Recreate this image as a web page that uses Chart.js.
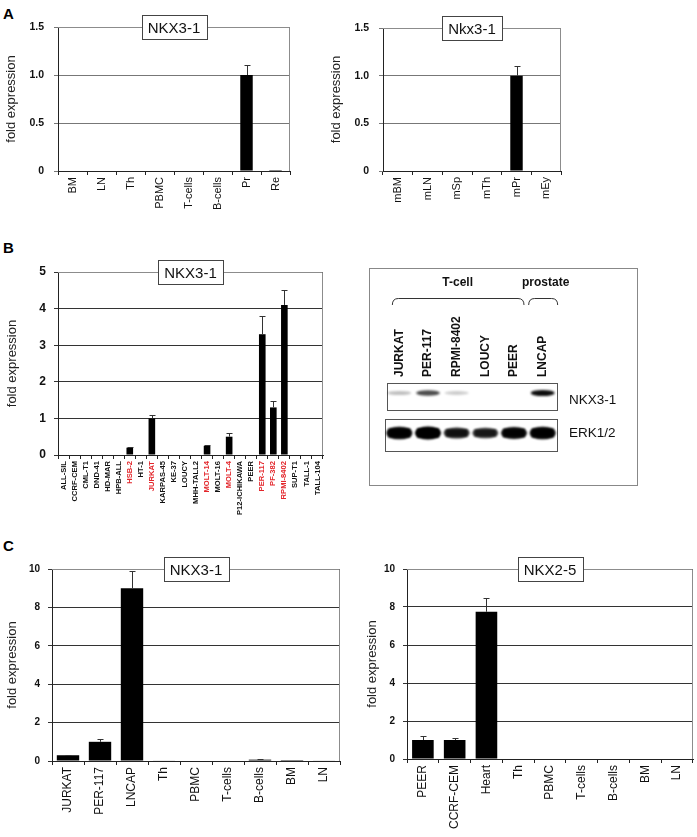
<!DOCTYPE html>
<html>
<head>
<meta charset="utf-8">
<script src="https://cdn.jsdelivr.net/npm/chart.js@4.4.1/dist/chart.umd.min.js"></script>
<style>
  body { margin: 0; background: #fff; font-family: "Liberation Sans", Arial, sans-serif; }
  #page { position: relative; width: 697px; height: 837px; overflow: hidden; background: #fff; }
  canvas, .blot, .panel { position: absolute; }
  .panel { font-weight: bold; font-size: 15px; line-height: 15px; color: #000; }
  .blot { border: 1px solid #888; left: 369px; top: 268px; width: 267px; height: 216px; }
  .blot canvas { left: 0; top: 0; }
</style>
</head>
<body>
<div id="page">
  <div class="panel" style="left:3px; top:6px;">A</div>
  <div class="panel" style="left:3px; top:240px;">B</div>
  <div class="panel" style="left:3px; top:538px;">C</div>

  <canvas id="chartA1" width="300" height="215" style="left:0; top:0;"></canvas>
  <canvas id="chartA2" width="372" height="215" style="left:325px; top:0;"></canvas>
  <canvas id="chartB" width="340" height="300" style="left:0; top:228px;"></canvas>
  <div class="blot"><canvas id="blot" width="267" height="216"></canvas></div>
  <canvas id="chartC1" width="350" height="292" style="left:0; top:545px;"></canvas>
  <canvas id="chartC2" width="347" height="292" style="left:350px; top:545px;"></canvas>
</div>
<script>
// --- données ---
const tissuesA = ['BM', 'LN', 'Th', 'PBMC', 'T-cells', 'B-cells', 'Pr', 'Re'];
const nkxA = [0, 0, 0, 0, 0, 0, 1.0, 0.01];
const nkxAErr = [0, 0, 0, 0, 0, 0, 0.1, 0];

const mouseA = ['mBM', 'mLN', 'mSp', 'mTh', 'mPr', 'mEy'];
const nkxMouse = [0, 0, 0, 0, 1.0, 0];
const nkxMouseErr = [0, 0, 0, 0, 0.1, 0];

const cellLinesB = ['ALL-SIL', 'CCRF-CEM', 'CML-T1', 'DND-41', 'HD-MAR', 'HPB-ALL', 'HSB-2', 'HT-1',
  'JURKAT', 'KARPAS-45', 'KE-37', 'LOUCY', 'MHH-TALL2', 'MOLT-14', 'MOLT-16', 'MOLT-4',
  'P12-ICHIKAWA', 'PEER', 'PER-117', 'PF-382', 'RPMI-8402', 'SUP-T1', 'TALL-1', 'TALL-104'];
const redLinesB = ['HSB-2', 'JURKAT', 'MOLT-14', 'MOLT-4', 'PER-117', 'PF-382', 'RPMI-8402'];
const nkxB = [0, 0, 0, 0, 0, 0, 0.2, 0, 1.0, 0, 0, 0, 0, 0.25, 0, 0.5, 0, 0, 3.3, 1.3, 4.1, 0, 0, 0];
const nkxBErr = [0, 0, 0, 0, 0, 0, 0.02, 0, 0.1, 0, 0, 0, 0, 0.02, 0, 0.1, 0, 0, 0.5, 0.18, 0.42, 0, 0, 0];

const blotLanes = ['JURKAT', 'PER-117', 'RPMI-8402', 'LOUCY', 'PEER', 'LNCAP'];
const nkxBand = [0.25, 0.7, 0.2, 0, 0, 0.95];
const erkBand = [0.95, 1.0, 0.75, 0.7, 0.9, 0.95];

const samplesC1 = ['JURKAT', 'PER-117', 'LNCAP', 'Th', 'PBMC', 'T-cells', 'B-cells', 'BM', 'LN'];
const nkxC = [0.3, 1.0, 9.0, 0.03, 0, 0, 0.07, 0.05, 0.03];
const nkxCErr = [0.03, 0.12, 0.9, 0, 0, 0, 0.02, 0, 0];

const samplesC2 = ['PEER', 'CCRF-CEM', 'Heart', 'Th', 'PBMC', 'T-cells', 'B-cells', 'BM', 'LN'];
const nkx25 = [1.0, 1.0, 7.75, 0, 0, 0, 0, 0, 0];
const nkx25Err = [0.2, 0.08, 0.75, 0, 0, 0, 0, 0, 0];

const FONT = '"Liberation Sans", Arial, sans-serif';
Chart.defaults.font.family = FONT;

// cadre gris en haut et à droite de la zone de tracé
const plotFrame = {
  id: 'plotFrame',
  beforeDatasetsDraw(chart) {
    const { ctx, chartArea: a } = chart;
    ctx.save();
    ctx.strokeStyle = '#8c8c8c';
    ctx.lineWidth = 1;
    ctx.beginPath();
    ctx.moveTo(a.left, Math.round(a.top) + 0.5);
    ctx.lineTo(Math.round(a.right) - 0.5, Math.round(a.top) + 0.5);
    ctx.lineTo(Math.round(a.right) - 0.5, a.bottom);
    ctx.stroke();
    ctx.restore();
  }
};

// barres d'erreur (vers le haut seulement)
const errorBars = {
  id: 'errorBars',
  afterDatasetsDraw(chart) {
    const ds = chart.data.datasets[0];
    const meta = chart.getDatasetMeta(0);
    const y = chart.scales.y;
    const ctx = chart.ctx;
    ctx.save();
    ctx.strokeStyle = '#333';
    ctx.lineWidth = 1;
    ds.errors.forEach((e, i) => {
      if (!e) return;
      const x = Math.round(meta.data[i].x) + 0.5;
      const y0 = y.getPixelForValue(ds.data[i]);
      const y1 = Math.round(y.getPixelForValue(ds.data[i] + e)) + 0.5;
      ctx.beginPath();
      ctx.moveTo(x, y0);
      ctx.lineTo(x, y1);
      ctx.moveTo(x - 3, y1);
      ctx.lineTo(x + 3, y1);
      ctx.stroke();
    });
    ctx.restore();
  }
};

// titre encadré posé sur le bord supérieur
const titleBox = {
  id: 'titleBox',
  afterDraw(chart, args, opts) {
    const { ctx, chartArea: a } = chart;
    ctx.save();
    ctx.font = '15px ' + FONT;
    const w = Math.round(ctx.measureText(opts.text).width + 12);
    const h = 24;
    const cx = (a.left + a.right) / 2;
    const x = Math.round(cx - w / 2) + 0.5;
    const y = Math.round(a.top - h / 2) + 0.5;
    ctx.fillStyle = '#fff';
    ctx.fillRect(x, y, w, h);
    ctx.strokeStyle = '#444';
    ctx.lineWidth = 1;
    ctx.strokeRect(x, y, w, h);
    ctx.fillStyle = '#111';
    ctx.textAlign = 'center';
    ctx.textBaseline = 'middle';
    ctx.fillText(opts.text, cx, y + h / 2 + 1);
    ctx.restore();
  }
};

function makeBar(id, labels, values, errors, o) {
  return new Chart(document.getElementById(id), {
    type: 'bar',
    data: {
      labels: labels,
      datasets: [{
        data: values,
        errors: errors,
        backgroundColor: '#000',
        borderWidth: 0,
        barPercentage: o.barPct,
        categoryPercentage: 1
      }]
    },
    options: {
      responsive: false,
      animation: false,
      layout: { padding: { top: o.top, right: o.right, left: 0, bottom: 0 } },
      plugins: {
        legend: { display: false },
        tooltip: { enabled: false },
        titleBox: { text: o.title }
      },
      scales: {
        x: {
          grid: { offset: true, drawOnChartArea: false, tickLength: 4, color: '#222' },
          border: { color: '#222' },
          ticks: {
            autoSkip: false, minRotation: 90, maxRotation: 90, padding: 2,
            font: o.labelFont, color: o.labelColor || '#111'
          },
          afterFit: s => { s.height = o.xHeight; }
        },
        y: {
          min: 0,
          max: o.yMax,
          ticks: {
            stepSize: o.step, font: o.tickFont, color: '#111', padding: o.tickPad,
            callback: o.fmt || (v => v)
          },
          grid: { color: o.grid, tickLength: 4 },
          border: { color: '#222' },
          title: {
            display: true, text: 'fold expression', font: { size: 13 }, color: '#222',
            padding: { top: o.titlePad, bottom: 0 }
          },
          afterFit: s => { s.width = o.yWidth; }
        }
      }
    },
    plugins: [plotFrame, errorBars, titleBox]
  });
}

const fmtA = v => (v === 0 ? '0' : v.toFixed(1));

makeBar('chartA1', tissuesA, nkxA, nkxAErr, {
  title: 'NKX3-1', yMax: 1.5, step: 0.5, fmt: fmtA, barPct: 0.43,
  top: 27, right: 10, yWidth: 58, xHeight: 44, titlePad: 4, tickPad: 10,
  tickFont: { size: 10.5, weight: 'bold' }, labelFont: { size: 11 }, grid: '#777'
});

makeBar('chartA2', mouseA, nkxMouse, nkxMouseErr, {
  title: 'Nkx3-1', yMax: 1.5, step: 0.5, fmt: fmtA, barPct: 0.42,
  top: 28, right: 136, yWidth: 58, xHeight: 44, titlePad: 4, tickPad: 10,
  tickFont: { size: 10.5, weight: 'bold' }, labelFont: { size: 11 }, grid: '#777'
});

makeBar('chartB', cellLinesB, nkxB, nkxBErr, {
  title: 'NKX3-1', yMax: 5, step: 1, barPct: 0.6,
  top: 44, right: 17, yWidth: 58, xHeight: 73, titlePad: 5, tickPad: 8,
  tickFont: { size: 12, weight: 'bold' }, labelFont: { size: 7.6, weight: 'bold' },
  labelColor: c => (redLinesB.includes(cellLinesB[c.index]) ? '#e3262b' : '#111'),
  grid: '#333'
});

makeBar('chartC1', samplesC1, nkxC, nkxCErr, {
  title: 'NKX3-1', yMax: 10, step: 2, barPct: 0.7,
  top: 24, right: 10, yWidth: 52, xHeight: 76, titlePad: 5, tickPad: 8,
  tickFont: { size: 10, weight: 'bold' }, labelFont: { size: 12 }, grid: '#333'
});

makeBar('chartC2', samplesC2, nkx25, nkx25Err, {
  title: 'NKX2-5', yMax: 10, step: 2, barPct: 0.68,
  top: 24, right: 4, yWidth: 57, xHeight: 78, titlePad: 15, tickPad: 8,
  tickFont: { size: 10, weight: 'bold' }, labelFont: { size: 12 }, grid: '#333'
});

// western blot : bandes placées sur l'échelle des pistes
const blotPainter = {
  id: 'blotPainter',
  afterDraw(chart) {
    const { ctx, chartArea: a } = chart;
    const x = chart.scales.x;
    const px = i => x.getPixelForValue(i);
    ctx.save();

    // en-têtes et accolades
    ctx.fillStyle = '#111';
    ctx.font = 'bold 12px ' + FONT;
    ctx.textAlign = 'center';
    ctx.textBaseline = 'middle';
    ctx.fillText('T-cell', (px(0) + px(4)) / 2 + 1, 14);
    ctx.fillText('prostate', px(5) + 3, 14);

    ctx.strokeStyle = '#333';
    ctx.lineWidth = 1;
    const brace = (x0, x1) => {
      const yt = 29.5, yb = 36, r = 6;
      ctx.beginPath();
      ctx.moveTo(x0, yb);
      ctx.quadraticCurveTo(x0, yt, x0 + r, yt);
      ctx.lineTo(x1 - r, yt);
      ctx.quadraticCurveTo(x1, yt, x1, yb);
      ctx.stroke();
    };
    brace(px(0) - 7, px(4) + 10);
    brace(px(5) - 14, px(5) + 15);

    // noms des pistes (lus de bas en haut)
    ctx.font = 'bold 12px ' + FONT;
    ctx.textAlign = 'left';
    ctx.textBaseline = 'middle';
    blotLanes.forEach((name, i) => {
      ctx.save();
      ctx.translate(px(i), 108);
      ctx.rotate(-Math.PI / 2);
      ctx.fillText(name, 0, 0);
      ctx.restore();
    });

    // boîtes des deux bandes
    ctx.strokeStyle = '#555';
    ctx.strokeRect(Math.round(a.left) + 2.5, Math.round(a.top) + 0.5, a.right - a.left - 2, 27);
    ctx.strokeRect(Math.round(a.left) + 0.5, Math.round(a.top) + 36.5, a.right - a.left, 32);

    ctx.fillStyle = '#111';
    ctx.font = '13.5px ' + FONT;
    ctx.textAlign = 'left';
    ctx.fillText('NKX3-1', a.right + 12, a.top + 17);
    ctx.fillText('ERK1/2', a.right + 12, a.top + 50);

    // bandes
    ctx.filter = 'blur(1.2px)';
    nkxBand.forEach((v, i) => {
      if (!v) return;
      ctx.fillStyle = 'rgba(0,0,0,' + v + ')';
      ctx.beginPath();
      ctx.ellipse(px(i), a.top + 10, 12, 1.6 + 1.6 * v, 0, 0, Math.PI * 2);
      ctx.fill();
    });
    erkBand.forEach((v, i) => {
      ctx.fillStyle = 'rgba(0,0,0,' + v + ')';
      const h = 2.5 + 4 * v;
      ctx.beginPath();
      ctx.ellipse(px(i), a.top + 50, 13, h, 0, 0, Math.PI * 2);
      ctx.fill();
      ctx.fillRect(px(i) - 11, a.top + 50 - h * 0.7, 22, h * 1.4);
    });
    ctx.filter = 'none';
    ctx.restore();
  }
};

new Chart(document.getElementById('blot'), {
  type: 'bar',
  data: {
    labels: blotLanes,
    datasets: [
      { label: 'NKX3-1', data: nkxBand, backgroundColor: 'rgba(0,0,0,0)' },
      { label: 'ERK1/2', data: erkBand, backgroundColor: 'rgba(0,0,0,0)' }
    ]
  },
  options: {
    responsive: false,
    animation: false,
    layout: { padding: { left: 15, right: 80, top: 114, bottom: 34 } },
    plugins: { legend: { display: false }, tooltip: { enabled: false } },
    scales: {
      x: { display: false },
      y: { display: false, min: 0, max: 1 }
    }
  },
  plugins: [blotPainter]
});
</script>
</body>
</html>
